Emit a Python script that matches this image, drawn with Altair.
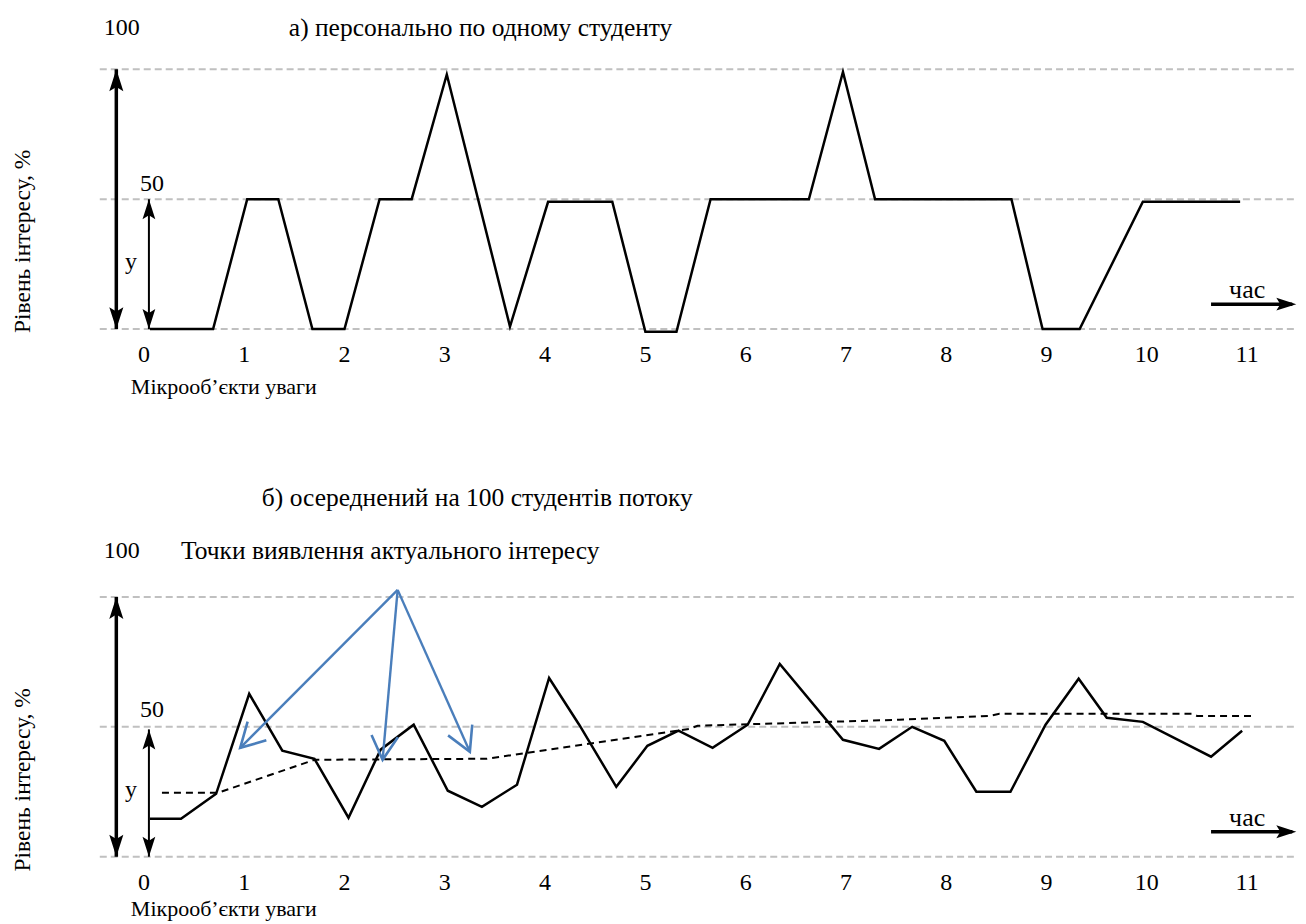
import math
import altair as alt
import pandas as pd

# ---------------- data ----------------
tick_values = list(range(12))
tick_labels = [str(v) for v in tick_values]
grid_levels = [0, 50, 100]

# a) individual student
a_x = [0.06, 0.69, 1.03, 1.34, 1.68, 2.00, 2.35, 2.67, 3.02, 3.65, 4.03, 4.67,
       5.00, 5.31, 5.65, 6.63, 6.97, 7.29, 8.65, 8.96, 9.33, 9.96, 10.93]
a_y = [0, 0, 50, 50, 0, 0, 50, 50, 98, 1, 49, 49,
       -1, -1, 50, 50, 99, 50, 50, 0, 0, 49, 49]

# b) averaged over 100 students
b_x = [0.06, 0.37, 0.72, 1.05, 1.38, 1.70, 2.04, 2.36, 2.69, 3.03,
       3.37, 3.72, 4.04, 4.34, 4.71, 5.02, 5.33, 5.67, 6.02, 6.34,
       6.97, 7.33, 7.66, 7.98, 8.30, 8.64, 8.99, 9.32, 9.60, 9.96,
       10.64, 10.95]
b_y = [14.6, 14.6, 24.2, 62.7, 40.8, 37.7, 15.0, 41.2, 50.8, 25.4,
       19.2, 27.7, 68.8, 50.8, 26.9, 42.7, 48.5, 41.9, 50.8, 74.2,
       45.0, 41.5, 50.0, 44.6, 25.0, 25.0, 50.8, 68.5, 53.5, 51.9,
       38.5, 48.5]

trend_x = [0.18, 0.74, 1.70, 3.42, 5.44, 5.52, 7.53, 8.43, 8.53, 10.45, 10.50, 11.07]
trend_y = [24.6, 24.6, 37.3, 37.7, 49.2, 50.4, 52.7, 54.2, 55.0, 55.0, 54.2, 54.2]

# points of actual interest (blue arrows)
interest_from_x = 2.53
interest_from_y = 102.7
interest_to_x = [0.96, 2.38, 3.25]
interest_to_y = [41.9, 37.3, 40.4]

title_a = "а) персонально по одному студенту"
title_b = "б) осереднений на 100 студентів потоку"
note_b = "Точки виявлення актуального інтересу"
y_title = "Рівень інтересу, %"
x_title = "Мікрооб’єкти уваги"
time_label = "час"

# ---------------- layout / style ----------------
FONT = "Liberation Serif"
BLUE = "#4a7ebb"
GRID = "#c0c0c0"
W = 1290
PX_X = 100.37   # px per x unit
PX_Y = 2.6      # px per y unit
X_DOM = [-1.355, 11.497]
FILLED_HEAD = "M0,0 L0.32,1 L0,0.8 L-0.32,1 Z"
OPEN_HEAD = "M-0.5,0.9 L0,0 L0.5,0.9"

xs = alt.Scale(domain=X_DOM, nice=False, zero=False)


def X(f="x"):
    return alt.X(f"{f}:Q", scale=xs, axis=None)


def text_layer(df, ys, size, align="center", baseline="middle", angle=0):
    kw = dict(font=FONT, fontSize=size, color="black", align=align, baseline=baseline)
    if angle:
        kw["angle"] = angle
    return alt.Chart(df).mark_text(**kw).encode(
        x=X(), y=alt.Y("y:Q", scale=ys, axis=None), text="t:N")


def panel(lx, ly, ydom, height, title, title_x, title_y, label100_y, label50_y,
          ytitle_y, xtitle_y, extra_note=None, trend=None, arrows=None, thin_top=50):
    ys = alt.Scale(domain=ydom, nice=False, zero=False)
    Y = lambda f="y": alt.Y(f"{f}:Q", scale=ys, axis=None)
    layers = []

    grid_df = pd.DataFrame({"y": grid_levels, "x": -0.44, "x2": X_DOM[1]})
    layers.append(alt.Chart(grid_df).mark_rule(color=GRID, strokeWidth=2, strokeDash=[7, 4])
                  .encode(x=X(), x2="x2", y=Y()))

    # vertical double arrows
    varr = pd.DataFrame({"x": [-0.275, 0.05], "y": [0, 0], "y2": [100, thin_top], "sw": [3.5, 2]})
    layers.append(alt.Chart(varr).mark_rule(color="black")
                  .encode(x=X(), y=Y(), y2="y2", strokeWidth=alt.StrokeWidth("sw:Q", scale=None)))
    heads = pd.DataFrame({
        "x": [-0.275, -0.275, 0.05, 0.05, 11.49],
        "y": [100, 0, thin_top, 0, 9.6],
        "angle": [0, 180, 0, 180, 90],
        "s": [1936, 1936, 1600, 1600, 1600],
    })
    # time arrow shaft
    tarr = pd.DataFrame({"x": [10.64], "x2": [11.45], "y": [9.6]})
    layers.append(alt.Chart(tarr).mark_rule(color="black", strokeWidth=3.5)
                  .encode(x=X(), x2="x2", y=Y()))
    layers.append(alt.Chart(heads).mark_point(shape=FILLED_HEAD, filled=True, color="black", opacity=1)
                  .encode(x=X(), y=Y(), angle=alt.Angle("angle:Q", scale=None),
                          size=alt.Size("s:Q", scale=None)))

    if trend is not None:
        tdf = pd.DataFrame({"x": trend[0], "y": trend[1], "i": range(len(trend[0]))})
        layers.append(alt.Chart(tdf).mark_line(color="black", strokeWidth=2, strokeDash=[7, 5])
                      .encode(x=X(), y=Y(), order="i:Q"))

    ldf = pd.DataFrame({"x": lx, "y": ly, "i": range(len(lx))})
    layers.append(alt.Chart(ldf).mark_line(color="black", strokeWidth=2.5)
                  .encode(x=X(), y=Y(), order="i:Q"))

    if arrows is not None:
        fx, fy, tx, ty = arrows
        adf = pd.DataFrame({"x": fx, "y": fy, "x2": tx, "y2": ty})
        adf["angle"] = [
            (math.degrees(math.atan2((x2 - fx) * PX_X, (y2 - fy) * PX_Y)) + 360) % 360
            for x2, y2 in zip(tx, ty)
        ]
        layers.append(alt.Chart(adf).mark_rule(color=BLUE, strokeWidth=2.4)
                      .encode(x=X(), y=Y(), x2="x2", y2="y2"))
        layers.append(alt.Chart(adf).mark_point(shape=OPEN_HEAD, filled=False, color=BLUE,
                                                strokeWidth=2.6, size=2800, opacity=1)
                      .encode(x=X("x2"), y=Y("y2"), angle=alt.Angle("angle:Q", scale=None)))

    # texts
    nums = pd.DataFrame({
        "x": [-0.22, 0.08, -0.13] + tick_values,
        "y": [label100_y, label50_y, 25.8] + [-10] * len(tick_values),
        "t": ["100", "50", "y"] + tick_labels,
    })
    layers.append(text_layer(nums, ys, 24))
    layers.append(text_layer(pd.DataFrame({"x": [11.0], "y": [15], "t": [time_label]}), ys, 26))
    tl_x = [title_x]
    tl_y = [title_y]
    tl_t = [title]
    if extra_note is not None:
        tl_x.append(extra_note[0]); tl_y.append(extra_note[1]); tl_t.append(extra_note[2])
    layers.append(text_layer(pd.DataFrame({"x": tl_x, "y": tl_y, "t": tl_t}), ys, 25.5, align="left"))
    layers.append(text_layer(pd.DataFrame({"x": [-0.13], "y": [xtitle_y], "t": [x_title]}), ys, 22,
                             align="left"))
    layers.append(text_layer(pd.DataFrame({"x": [-1.205], "y": [ytitle_y], "t": [y_title]}), ys, 23.5,
                             angle=270))

    return alt.layer(*layers).properties(width=W, height=height)


top = panel(a_x, a_y, [-51.92, 123.46], 456, title_a, 1.445, 115.8, 115.8, 55.8,
            33.8, -22.3)
bottom = panel(b_x, b_y, [-22.69, 151.15], 452, title_b, 1.176, 138.1, 117.7, 56.5,
               29.6, -20.0,
               extra_note=(0.37, 117.7, note_b),
               trend=(trend_x, trend_y),
               arrows=(interest_from_x, interest_from_y, interest_to_x, interest_to_y),
               thin_top=49)

chart = (alt.vconcat(top, bottom, spacing=0)
         .properties(padding=0, background="white")
         .configure_view(strokeWidth=0, stroke="transparent"))

chart.save("out.html", embed_options={"renderer": "svg", "actions": False})
